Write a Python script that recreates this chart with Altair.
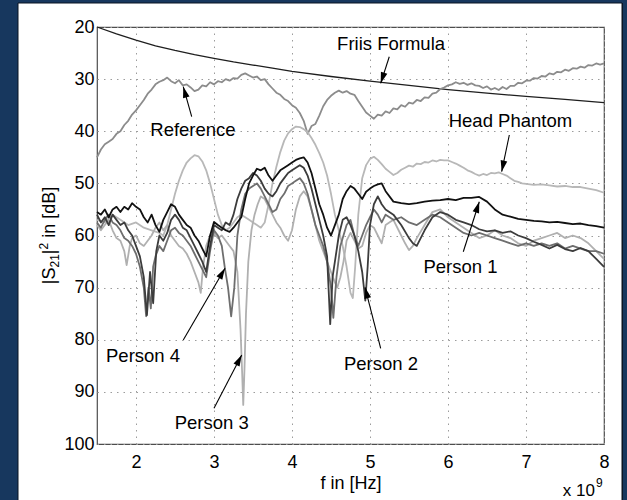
import math
import altair as alt
import pandas as pd

# ---------------------------------------------------------------------------
# Measured transmission |S21|^2 (dB, drawn as attenuation) versus frequency.
# Frequencies are given in GHz; the axis carries the "x 10^9" multiplier.
# ---------------------------------------------------------------------------

friis_f = [1.5, 1.75, 2.0, 2.25, 2.5, 2.75, 3.0, 3.25, 3.5, 3.75, 4.0, 4.5,
           5.0, 5.5, 6.0, 6.5, 7.0, 7.5, 8.0]
friis_db = [20.0, 21.3, 22.5, 23.6, 24.5, 25.3, 26.0, 26.7, 27.3, 27.9, 28.5,
            29.5, 30.4, 31.2, 32.0, 32.7, 33.3, 33.9, 34.5]

ref_f = [1.50, 1.55, 1.60, 1.65, 1.70, 1.75, 1.80, 1.85, 1.90, 1.95, 2.00,
         2.05, 2.10, 2.15, 2.20, 2.25, 2.30, 2.35, 2.40, 2.45, 2.50, 2.55,
         2.60, 2.65, 2.70, 2.75, 2.80, 2.85, 2.90, 2.95, 3.00, 3.05, 3.10,
         3.15, 3.20, 3.25, 3.30, 3.35, 3.40, 3.45, 3.50, 3.55, 3.60, 3.65,
         3.70, 3.75, 3.80, 3.85, 3.90, 3.95, 4.00, 4.05, 4.10, 4.15, 4.20,
         4.25, 4.30, 4.35, 4.40, 4.45, 4.50, 4.55, 4.60, 4.65, 4.70, 4.75,
         4.80, 4.85, 4.90, 4.95, 5.00, 5.05, 5.10, 5.15, 5.20, 5.25, 5.30,
         5.35, 5.40, 5.45, 5.50, 5.55, 5.60, 5.65, 5.70, 5.75, 5.80, 5.85,
         5.90, 5.95, 6.00, 6.05, 6.10, 6.15, 6.20, 6.25, 6.30, 6.35, 6.40,
         6.45, 6.50, 6.55, 6.60, 6.65, 6.70, 6.75, 6.80, 6.85, 6.90, 6.95,
         7.00, 7.05, 7.10, 7.15, 7.20, 7.25, 7.30, 7.35, 7.40, 7.45, 7.50,
         7.55, 7.60, 7.65, 7.70, 7.75, 7.80, 7.85, 7.90, 7.95, 8.00]
ref_db = [45.0, 43.5, 42.5, 42.0, 41.5, 40.5, 40.0, 38.8, 38.0, 36.8, 36.0,
          35.0, 34.0, 32.8, 32.0, 31.0, 30.5, 30.2, 29.7, 30.4, 30.8, 30.2,
          31.2, 31.0, 31.6, 32.3, 32.0, 31.2, 31.4, 30.6, 31.0, 30.4, 30.6,
          30.0, 30.3, 29.8, 29.9, 29.2, 28.9, 29.3, 29.7, 29.5, 30.2, 30.0,
          31.0, 31.8, 32.6, 33.0, 33.8, 34.2, 35.0, 35.5, 36.5, 38.0, 40.5,
          39.0, 38.6, 37.0, 35.2, 34.0, 33.2, 32.6, 32.2, 32.6, 32.3, 32.8,
          33.0, 34.2, 35.3, 36.4, 37.0, 37.6, 36.8, 37.0, 36.2, 36.5, 35.6,
          35.8, 35.0, 35.3, 34.5, 34.7, 34.0, 34.2, 33.5, 33.6, 32.8, 32.6,
          31.9, 31.6, 31.2, 31.0, 30.6, 30.9, 30.7, 31.1, 30.8, 31.2, 31.3,
          31.7, 31.4, 32.0, 31.7, 32.1, 31.5, 31.9, 31.3, 31.3, 30.7, 30.8,
          30.3, 30.3, 29.8, 29.9, 29.4, 29.5, 28.9, 29.1, 28.6, 28.7, 28.2,
          28.4, 27.9, 28.0, 27.6, 27.8, 27.3, 27.4, 27.0, 27.2, 27.0]

head_f = [1.50, 1.60, 1.70, 1.80, 1.90, 2.00, 2.10, 2.20, 2.30, 2.35, 2.40,
          2.45, 2.50, 2.55, 2.60, 2.65, 2.70, 2.75, 2.80, 2.85, 2.90, 2.95,
          3.00, 3.05, 3.10, 3.15, 3.20, 3.25, 3.30, 3.35, 3.40, 3.45, 3.50,
          3.55, 3.60, 3.65, 3.70, 3.75, 3.80, 3.85, 3.90, 3.95, 4.00, 4.05,
          4.10, 4.15, 4.20, 4.25, 4.30, 4.35, 4.40, 4.45, 4.50, 4.55, 4.60,
          4.65, 4.70, 4.75, 4.78, 4.81, 4.85, 4.90, 4.95, 5.00, 5.05, 5.10,
          5.15, 5.20, 5.25, 5.30, 5.35, 5.40, 5.45, 5.50, 5.55, 5.60, 5.65,
          5.70, 5.75, 5.80, 5.85, 5.90, 5.95, 6.00, 6.05, 6.10, 6.15, 6.20,
          6.25, 6.30, 6.35, 6.40, 6.45, 6.50, 6.55, 6.60, 6.65, 6.70, 6.75,
          6.80, 6.85, 6.90, 6.95, 7.00, 7.10, 7.20, 7.30, 7.40, 7.50, 7.60,
          7.70, 7.80, 7.90, 8.00]
head_db = [57.0, 57.5, 56.0, 57.0, 58.0, 57.5, 58.5, 59.0, 59.5, 60.0, 58.0,
           55.0, 52.0, 49.5, 47.5, 46.0, 45.2, 44.6, 44.8, 45.8, 47.5, 50.0,
           53.0, 56.0, 58.0, 59.0, 58.5, 57.5, 56.5, 56.0, 56.5, 57.0, 57.5,
           58.0, 58.5, 57.5, 54.0, 50.0, 46.8, 44.0, 41.8, 40.4, 39.6, 39.1,
           39.2, 39.6, 40.2, 41.3, 42.6, 44.2, 46.0, 48.5, 52.0, 56.0, 59.0,
           62.0, 66.0, 71.0, 72.0, 66.0, 56.0, 49.0, 46.5, 45.3, 44.9, 45.5,
           46.3, 47.2, 47.8, 48.4, 48.0, 47.4, 47.0, 46.6, 46.8, 46.2, 46.3,
           45.9, 46.0, 45.6, 45.8, 45.5, 45.6, 45.6, 45.9, 46.2, 46.6, 47.0,
           47.5, 47.8, 48.2, 48.5, 48.2, 48.4, 48.0, 48.1, 47.9, 48.2, 48.5,
           49.0, 49.5, 49.7, 50.0, 50.1, 50.3, 50.2, 50.4, 50.6, 50.5, 50.7,
           50.7, 51.0, 51.3, 51.8]

p1_f = [1.50, 1.55, 1.60, 1.65, 1.70, 1.75, 1.80, 1.85, 1.90, 1.95, 2.00,
        2.05, 2.10, 2.15, 2.20, 2.25, 2.30, 2.35, 2.40, 2.45, 2.50, 2.55,
        2.60, 2.65, 2.70, 2.75, 2.80, 2.85, 2.90, 2.95, 3.00, 3.05, 3.10,
        3.15, 3.20, 3.25, 3.30, 3.35, 3.40, 3.45, 3.50, 3.55, 3.60, 3.65,
        3.70, 3.75, 3.80, 3.85, 3.90, 3.95, 4.00, 4.05, 4.10, 4.15, 4.20,
        4.25, 4.30, 4.35, 4.40, 4.45, 4.50, 4.55, 4.60, 4.65, 4.70, 4.75,
        4.80, 4.85, 4.90, 4.95, 5.00, 5.05, 5.10, 5.15, 5.20, 5.30, 5.40,
        5.50, 5.60, 5.70, 5.80, 5.90, 6.00, 6.10, 6.20, 6.30, 6.40, 6.50,
        6.60, 6.70, 6.80, 6.90, 7.00, 7.10, 7.20, 7.30, 7.40, 7.50, 7.60,
        7.70, 7.80, 7.90, 8.00]
p1_db = [55.5, 56.0, 55.0, 56.5, 55.0, 54.5, 55.5, 54.5, 55.0, 53.8, 54.5,
         55.0, 56.5, 57.5, 56.0, 58.0, 59.3, 57.0, 55.5, 54.0, 54.5, 56.0,
         57.0, 58.0, 58.5, 60.0, 61.0, 62.5, 64.0, 60.0, 57.4, 58.0, 58.5,
         59.0, 59.3, 58.5, 57.5, 56.5, 53.0, 50.0, 48.5, 47.2, 47.5, 47.0,
         48.5, 49.5, 48.5, 47.5, 47.0, 46.5, 46.0, 45.5, 45.2, 45.0, 46.0,
         48.0, 51.0, 54.0, 56.0, 58.5, 60.0, 58.0, 56.0, 53.0, 51.5, 50.5,
         51.0, 52.0, 53.0, 51.6, 51.0, 50.5, 50.2, 50.0, 51.5, 53.5, 53.8,
         54.0, 53.8, 53.5, 53.3, 53.2, 53.0, 53.2, 52.8, 52.8, 52.6, 53.5,
         55.0, 56.0, 56.4, 56.8, 57.0, 57.2, 57.3, 57.5, 57.4, 57.6, 57.8,
         57.7, 58.0, 58.2, 58.5]

p2_f = [1.50, 1.55, 1.60, 1.65, 1.70, 1.75, 1.80, 1.85, 1.90, 1.95, 2.00,
        2.05, 2.10, 2.14, 2.18, 2.22, 2.26, 2.30, 2.35, 2.40, 2.45, 2.50,
        2.55, 2.60, 2.65, 2.70, 2.75, 2.80, 2.85, 2.90, 2.95, 3.00, 3.05,
        3.10, 3.15, 3.20, 3.25, 3.30, 3.35, 3.40, 3.45, 3.50, 3.55, 3.60,
        3.65, 3.70, 3.75, 3.80, 3.85, 3.90, 3.95, 4.00, 4.05, 4.10, 4.15,
        4.20, 4.25, 4.30, 4.35, 4.40, 4.45, 4.49, 4.52, 4.56, 4.60, 4.65,
        4.70, 4.75, 4.80, 4.85, 4.90, 4.94, 4.97, 5.00, 5.05, 5.10, 5.15,
        5.20, 5.30, 5.40, 5.50, 5.55, 5.60, 5.70, 5.80, 5.90, 6.00, 6.10,
        6.20, 6.30, 6.40, 6.50, 6.60, 6.70, 6.80, 6.90, 7.00, 7.10, 7.20,
        7.30, 7.40, 7.50, 7.60, 7.70, 7.80, 7.90, 8.00]
p2_db = [56.0, 57.5, 56.5, 58.0, 56.0, 57.0, 58.0, 57.5, 59.0, 60.0, 62.0,
         64.0, 68.0, 75.3, 67.0, 73.0, 63.0, 60.0, 61.0, 59.5, 57.0, 56.0,
         57.0, 58.5, 59.0, 60.5, 62.0, 63.5, 65.0, 67.0, 62.0, 58.0, 58.5,
         59.0, 57.5, 58.0, 56.0, 53.0, 51.0, 49.5, 49.0, 48.0, 48.5, 49.5,
         51.0, 52.0, 52.5, 51.5, 50.0, 49.0, 48.0, 47.5, 47.0, 46.5, 47.0,
         48.5, 51.0, 54.0, 57.0, 60.0, 64.0, 77.0, 68.0, 64.0, 60.0, 57.0,
         56.5, 58.0, 60.0, 63.0, 67.0, 72.5, 66.0, 58.0, 54.0, 52.5, 54.0,
         55.0, 56.0, 58.0, 60.5, 61.5, 62.0, 59.0, 56.5, 55.5, 56.0, 57.0,
         57.5, 58.0, 58.8, 59.2, 59.0, 59.5, 59.2, 60.0, 60.5, 61.2, 61.8,
         62.5, 61.8, 62.6, 63.0, 62.4, 63.0, 64.5, 66.0]

p3_f = [1.50, 1.55, 1.60, 1.65, 1.70, 1.75, 1.80, 1.85, 1.88, 1.92, 1.95,
        2.00, 2.05, 2.10, 2.15, 2.20, 2.25, 2.30, 2.35, 2.40, 2.45, 2.50,
        2.55, 2.60, 2.65, 2.70, 2.75, 2.80, 2.83, 2.86, 2.90, 2.95, 3.00,
        3.05, 3.10, 3.15, 3.20, 3.25, 3.30, 3.34, 3.36, 3.375, 3.39, 3.41,
        3.44, 3.48, 3.52, 3.56, 3.60, 3.65, 3.70, 3.75, 3.80, 3.85, 3.90,
        3.95, 4.00, 4.05, 4.10, 4.15, 4.20, 4.25, 4.30, 4.35, 4.40, 4.45,
        4.50, 4.55, 4.58, 4.62, 4.66, 4.70, 4.75, 4.80, 4.85, 4.90, 4.95,
        5.00, 5.05, 5.10, 5.15, 5.20, 5.30, 5.40, 5.45, 5.50, 5.55, 5.60,
        5.70, 5.80, 5.90, 6.00, 6.10, 6.20, 6.30, 6.40, 6.50, 6.60, 6.70,
        6.80, 6.90, 7.00, 7.10, 7.20, 7.30, 7.40, 7.50, 7.60, 7.70, 7.80,
        7.90, 8.00]
p3_db = [58.0, 59.0, 58.0, 57.0, 59.0, 60.5, 61.0, 63.0, 65.7, 62.0, 60.5,
         60.0, 61.5, 62.0, 61.0, 60.0, 58.5, 57.5, 59.0, 58.0, 60.0, 61.0,
         62.0, 62.5, 63.5, 65.0, 67.0, 69.0, 71.0, 66.0, 62.0, 60.0, 59.5,
         60.5, 60.0, 61.0, 62.0, 63.0, 67.0, 78.0, 86.0, 92.5, 86.0, 75.0,
         65.0, 59.0, 56.0, 54.0, 52.5, 53.0, 54.5, 56.0, 57.5, 58.5, 60.0,
         61.0, 59.0, 55.0, 52.5, 51.5, 52.5, 55.0, 58.0, 61.0, 63.0, 65.0,
         67.0, 69.0, 70.0, 68.0, 65.0, 61.0, 59.5, 61.0, 62.5, 62.0, 59.5,
         58.0, 58.5, 60.0, 61.5, 58.0, 57.0, 60.0, 61.5, 62.8, 62.0, 60.5,
         58.0, 55.5, 55.0, 56.5, 57.5, 58.5, 59.5, 60.5, 60.0, 59.0, 60.0,
         60.5, 61.5, 62.0, 61.0, 60.5, 60.0, 59.5, 60.5, 60.0, 60.5, 61.5,
         63.0, 64.5]

p4_f = [1.50, 1.55, 1.60, 1.65, 1.70, 1.75, 1.80, 1.85, 1.90, 1.95, 2.00,
        2.05, 2.10, 2.13, 2.16, 2.19, 2.22, 2.25, 2.30, 2.35, 2.40, 2.45,
        2.50, 2.55, 2.60, 2.65, 2.70, 2.75, 2.80, 2.85, 2.90, 2.95, 3.00,
        3.05, 3.10, 3.14, 3.18, 3.22, 3.26, 3.30, 3.35, 3.40, 3.45, 3.50,
        3.55, 3.60, 3.65, 3.70, 3.75, 3.80, 3.85, 3.90, 3.95, 4.00, 4.05,
        4.10, 4.15, 4.20, 4.25, 4.30, 4.35, 4.40, 4.45, 4.50, 4.53, 4.57,
        4.62, 4.70, 4.75, 4.80, 4.85, 4.90, 4.95, 5.00, 5.05, 5.10, 5.15,
        5.20, 5.30, 5.40, 5.50, 5.60, 5.70, 5.80, 5.90, 6.00, 6.10, 6.20,
        6.30, 6.40, 6.50, 6.60, 6.70, 6.80, 6.90, 7.00, 7.10, 7.20, 7.30,
        7.40, 7.50, 7.60, 7.70, 7.80, 7.90, 8.00]
p4_db = [57.5, 58.5, 57.0, 56.0, 57.5, 58.0, 59.0, 60.5, 61.0, 62.0, 63.5,
         66.0, 70.0, 75.5, 70.0, 74.0, 66.0, 64.0, 62.0, 63.0, 61.0, 59.0,
         58.5, 59.5, 60.0, 61.0, 62.0, 63.5, 65.0, 66.5, 68.0, 63.0, 59.0,
         60.0, 62.0, 66.3, 70.0, 75.5, 70.0, 60.0, 55.0, 52.0, 51.0, 50.5,
         50.0, 51.0, 52.5, 54.0, 55.5, 55.0, 53.0, 52.0, 50.5, 50.0, 49.5,
         49.0, 50.0, 52.0, 55.0, 58.0, 60.0, 62.0, 65.0, 70.0, 75.8, 68.0,
         62.0, 58.0, 57.0, 60.0, 62.0, 60.0, 58.0, 56.5, 55.0, 56.0, 57.5,
         56.0, 57.0, 56.5, 57.5, 58.0, 57.0, 56.0, 56.5, 57.5, 58.5, 59.5,
         60.0, 59.5, 60.0, 60.5, 61.0, 61.5, 62.0, 61.5, 62.0, 61.5, 62.0,
         61.5, 62.5, 62.0, 62.5, 63.0, 63.0, 63.5]

# Text labels with their arrows: (label, text f, text dB, tail f, tail dB, tip f, tip dB)
notes = [
    ("Friis Formula", 5.27, 23.3, 5.247, 25.70, 5.137, 30.80),
    ("Reference",     2.73, 39.8, 2.714, 37.21, 2.606, 31.45),
    ("Head Phantom",  6.80, 38.0, 6.786, 40.72, 6.688, 47.76),
    ("Person 1",      6.16, 66.0, 6.196, 63.11, 6.401, 53.52),
    ("Person 2",      5.14, 84.6, 5.137, 81.64, 4.936, 69.94),
    ("Person 4",      2.09, 83.1, 2.606, 80.05, 3.141, 66.29),
    ("Person 3",      2.97, 96.0, 3.000, 93.15, 3.355, 82.93),
]

# ---------------------------------------------------------------------------
FONT = "Liberation Sans"
NAVY = "#17375e"
F_MIN, F_MAX = 1.5, 8.0
DB_TOP, DB_BOTTOM = 20, 100
W, H = 507, 417
PAD = {"left": 97, "top": 27, "right": 23, "bottom": 56}

x_scale = alt.Scale(domain=[F_MIN, F_MAX], nice=False, zero=False)
y_scale = alt.Scale(domain=[DB_TOP, DB_BOTTOM], reverse=True, nice=False, zero=False)

common_axis = dict(
    grid=True, gridColor="#9c9c9c", gridDash=[1.5, 5], gridWidth=1,
    tickSize=0, domain=False, labelFlush=False,
    labelFont=FONT, labelFontSize=18, labelColor="#000000",
    titleFont=FONT, titleFontSize=18, titleColor="#000000",
    titleFontWeight="normal",
)
x_axis = alt.Axis(values=[2, 3, 4, 5, 6, 7, 8], title="f in [Hz]",
                  labelPadding=9, titlePadding=3, **common_axis)
# the y title is typeset by hand below (it needs a subscript and a superscript)
y_axis = alt.Axis(values=list(range(20, 101, 10)), title=None,
                  labelPadding=3, **common_axis)


def X(field):
    return alt.X(field, type="quantitative", scale=x_scale, axis=x_axis)


def Y(field):
    return alt.Y(field, type="quantitative", scale=y_scale, axis=y_axis)


series = [
    ("Friis Formula", friis_f, friis_db, "#1e1e1e", 1.3),
    ("Reference", ref_f, ref_db, "#8c8c8c", 1.8),
    ("Head Phantom", head_f, head_db, "#b8b8b8", 1.8),
    ("Person 3", p3_f, p3_db, "#b0b0b0", 1.8),
    ("Person 4", p4_f, p4_db, "#6e6e6e", 1.8),
    ("Person 2", p2_f, p2_db, "#3c3c3c", 1.8),
    ("Person 1", p1_f, p1_db, "#111111", 1.8),
]

layers = []
for name, fs, dbs, color, width in series:
    df = pd.DataFrame({"f": fs, "db": dbs, "series": name})
    layers.append(
        alt.Chart(df).mark_line(color=color, strokeWidth=width, strokeJoin="round").encode(
            x=X("f"), y=Y("db")
        )
    )

# Arrow geometry in screen space for orienting the heads
kx = W / (F_MAX - F_MIN)
ky = H / (DB_BOTTOM - DB_TOP)
note_rows = []
for label, tf, tdb, sf, sdb, pf, pdb in notes:
    dx = (pf - sf) * kx
    dy = (pdb - sdb) * ky
    ang = math.degrees(math.atan2(dx, -dy)) % 360
    note_rows.append({"label": label, "f": tf, "db": tdb, "sf": sf, "sdb": sdb,
                      "pf": pf, "pdb": pdb, "ang": ang})
notes_df = pd.DataFrame(note_rows)

arrow_shafts = alt.Chart(notes_df).mark_rule(color="#000000", strokeWidth=1.1).encode(
    x=X("sf"), y=Y("sdb"), x2="pf:Q", y2="pdb:Q",
)
arrow_heads = alt.Chart(notes_df).mark_point(
    shape="M0,0L-0.3,1L0.3,1Z", filled=True, opacity=1, color="#000000", size=500,
).encode(
    x=X("pf"), y=Y("pdb"), angle=alt.Angle("ang:Q", scale=None),
)
note_text = alt.Chart(notes_df).mark_text(
    font=FONT, fontSize=18.5, color="#000000", align="center", baseline="middle",
).encode(
    x=X("f"), y=Y("db"), text="label:N",
)


def free_text(text, x, y, size, align="left", angle=0):
    mark = dict(font=FONT, fontSize=size, color="#000000", align=align,
                baseline="alphabetic")
    if angle:
        mark["angle"] = angle
    return alt.Chart(alt.Data(values=[{}])).mark_text(**mark).encode(
        x=alt.value(x), y=alt.value(y), text=alt.value(text)
    )


# "x 10^9" multiplier under the right end of the frequency axis
exponent = [
    free_text("x 10", W - 9, H + 52, 17, align="right"),
    free_text("9", W - 8, H + 43, 12),
]

# Rotated y-axis title |S21|^2 in [dB], set piece by piece from the bottom up;
# each piece is (text, font size, baseline shift, gap before the piece)
title_pieces = [("|S", 18, 0, 0), ("21", 12, 4.5, 0), ("|", 18, 0, 0),
                ("2", 12, -7, 0), ("in [dB]", 18, 0, 5)]
char_w = {"|": 0.26, "S": 0.667, "2": 0.556, "1": 0.556, " ": 0.278, "i": 0.222,
          "n": 0.556, "[": 0.278, "d": 0.556, "B": 0.667, "]": 0.278}
run_len = sum(sum(char_w[c] for c in t) * s + g for t, s, _, g in title_pieces)
y_title = []
cursor = H / 2 + run_len / 2
for text, size, shift, gap in title_pieces:
    cursor -= gap
    y_title.append(free_text(text, -42.5 + shift, cursor, size, angle=270))
    cursor -= sum(char_w[c] for c in text) * size


def band(x0, x1, y0, y1, color):
    return alt.Chart(alt.Data(values=[{}])).mark_rect(color=color).encode(
        x=alt.value(x0), x2=alt.value(x1), y=alt.value(y0), y2=alt.value(y1)
    )


left, top = PAD["left"], PAD["top"]
full_w = W + PAD["left"] + PAD["right"]
full_h = H + PAD["top"] + PAD["bottom"]
frame = [
    band(-left, -left + 18, -top, full_h - top, NAVY),
    band(-left, full_w - left, -top, -top + 3, NAVY),
    band(full_w - left - 5, full_w - left, -top, full_h - top, NAVY),
    band(-left + 17.5, -left + 18.5, -top + 3, full_h - top, "#0b1522"),
    band(-left + 18, full_w - left - 5, -top + 2.5, -top + 3.5, "#0b1522"),
    band(full_w - left - 5.5, full_w - left - 4, -top + 3, full_h - top, "#0b1522"),
]

chart = alt.layer(
    *layers, arrow_shafts, arrow_heads, note_text, *exponent, *y_title, *frame
).properties(
    width=W, height=H, autosize=alt.AutoSizeParams(type="none"), padding=PAD,
    background="white",
).configure_view(stroke="#4d4d4d", strokeWidth=1.2)

chart.save("out.html", embed_options={"renderer": "svg", "actions": False})
